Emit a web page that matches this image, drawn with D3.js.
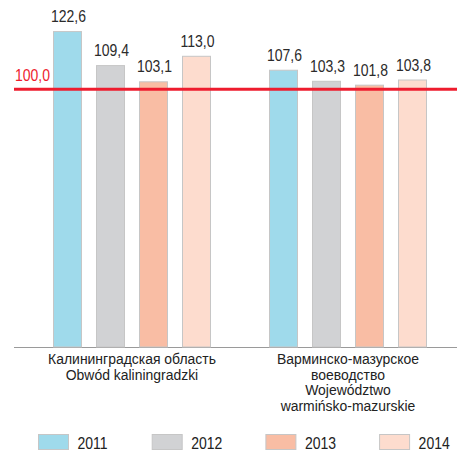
<!DOCTYPE html>
<html lang="ru">
<head>
<meta charset="UTF-8">
<title>Index 2011-2014</title>
<script src="https://d3js.org/d3.v7.min.js"></script>
<style>
  body { margin: 0; background: #fff; }
  text { font-family: "Liberation Sans", Arial, sans-serif; }
</style>
</head>
<body>
<svg width="457" height="451"></svg>
<script>
// data
const groups = ["kal", "war"]
const groupLabels = [
  ["Калининградская область", "Obwód kaliningradzki"],
  ["Варминско-мазурское", "воеводство", "Województwo", "warmińsko-mazurskie"]
]
const years = ["2011", "2012", "2013", "2014"]
const values = [
  [122.6, 109.4, 103.1, 113.0],
  [107.6, 103.3, 101.8, 103.8]
]
const colors = ["#9fdaeb", "#d1d2d4", "#f9bda4", "#fddcce"]
const refValue = 100

const fmt = v => d3.format(".1f")(v).replace(".", ",")
const squeeze = 0.875

const svg = d3.select("svg")

const x0 = d3.scaleBand().domain(groups).range([24, 456])
const x1 = d3.scaleBand().domain(years).range([29, 187]).paddingInner(0.326)
const y = d3.scaleLinear().domain([0, 100]).range([347, 89.3])
const color = d3.scaleOrdinal().domain(years).range(colors)

// axis line
svg.append("line")
  .attr("x1", 14).attr("x2", 457)
  .attr("y1", y(0) + 0.5).attr("y2", y(0) + 0.5)
  .attr("stroke", "#9a9a9a").attr("stroke-width", 1)

const rows = groups.map((g, i) => years.map((yr, j) => ({g, yr, v: values[i][j]})))

const gGroups = svg.selectAll(".grp")
  .data(rows)
  .enter().append("g")
  .attr("transform", (d, i) => `translate(${x0(groups[i])},0)`)

gGroups.selectAll("rect")
  .data(d => d)
  .enter().append("rect")
  .attr("x", d => x1(d.yr) + 0.5)
  .attr("y", d => y(d.v) + 0.5)
  .attr("width", x1.bandwidth() - 1)
  .attr("height", d => y(0) - y(d.v) - 0.5)
  .attr("fill", d => color(d.yr))
  .attr("stroke", "#c6c6c6")
  .attr("stroke-width", 1)

gGroups.selectAll(".val")
  .data(d => d)
  .enter().append("text")
  .attr("class", "val")
  .attr("transform", d => `translate(${x1(d.yr) + x1.bandwidth() / 2 + 1},${y(d.v) - 9}) scale(${squeeze},1)`)
  .attr("text-anchor", "middle")
  .attr("font-size", 16)
  .attr("fill", "#2b2b2b")
  .text(d => fmt(d.v))

// reference line 100
svg.append("line")
  .attr("x1", 14).attr("x2", 457)
  .attr("y1", y(refValue)).attr("y2", y(refValue))
  .attr("stroke", "#ee1c2e").attr("stroke-width", 3)

svg.append("text")
  .attr("transform", `translate(15,${y(refValue) - 8}) scale(${squeeze},1)`)
  .attr("font-size", 16)
  .attr("fill", "#ee1c2e")
  .text(fmt(refValue))

// category labels
groups.forEach((g, i) => {
  const cx = x0(g) + x0.bandwidth() / 2
  groupLabels[i].forEach((line, k) => {
    svg.append("text")
      .attr("transform", `translate(${cx},${364 + k * 15.5}) scale(0.93,1)`)
      .attr("text-anchor", "middle")
      .attr("font-size", 15)
      .attr("fill", "#222")
      .text(line)
  })
})

// legend
const legend = svg.selectAll(".leg")
  .data(years)
  .enter().append("g")
  .attr("transform", (d, i) => `translate(${38.5 + i * 113.7},434.5)`)

legend.append("rect")
  .attr("width", 30).attr("height", 15)
  .attr("fill", d => color(d))
  .attr("stroke", "#c6c6c6")

legend.append("text")
  .attr("transform", `translate(39,14.5) scale(${squeeze},1)`)
  .attr("font-size", 16)
  .attr("fill", "#222")
  .text(d => d)
</script>
</body>
</html>
